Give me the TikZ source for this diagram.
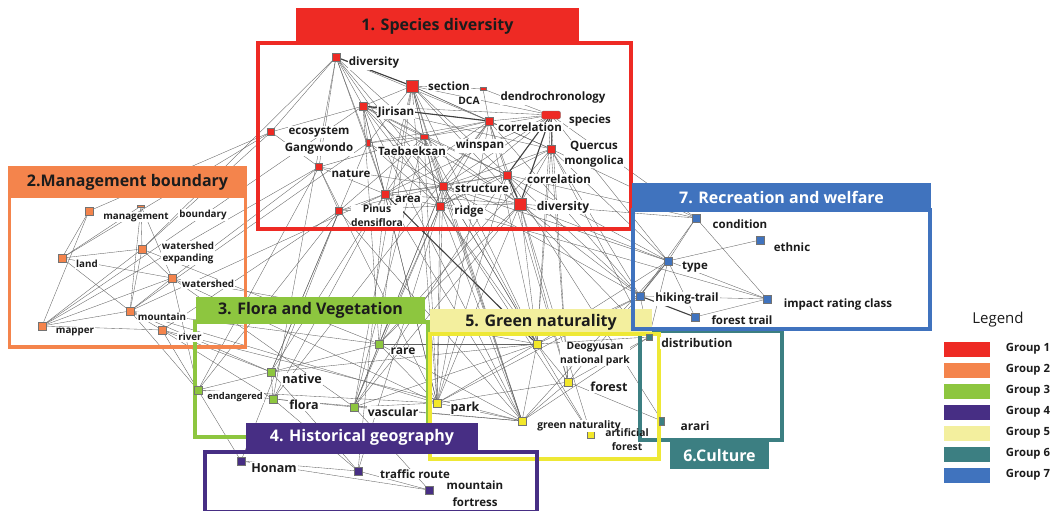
\documentclass[tikz,border=0pt]{standalone}
\usepackage{fontspec}
\setmainfont{Open Sans}
\definecolor{grpA}{HTML}{EE2A24}
\definecolor{grpB}{HTML}{F4844C}
\definecolor{grpC}{HTML}{8DC63F}
\definecolor{grpD}{HTML}{472E84}
\definecolor{grpE}{HTML}{F3EF9E}
\definecolor{grpEline}{HTML}{EEE835}
\definecolor{grpEnode}{HTML}{F2E72A}
\definecolor{grpF}{HTML}{3C7F82}
\definecolor{grpG}{HTML}{4073BE}
\definecolor{ink}{HTML}{1C1C1C}
\pgfdeclarelayer{paper}
\pgfdeclarelayer{edges}
\pgfdeclarelayer{frames}
\pgfsetlayers{paper,edges,frames,main}
\newcommand{\fs}[1]{\fontsize{#1}{#1}\selectfont\bfseries}
\begin{document}
\begin{tikzpicture}[x=1pt,y=-1pt,
  sq/.style={rectangle,draw=black!55,line width=0.3pt,minimum size=8pt,inner sep=0pt},
  big/.style={sq,minimum size=11.5pt},
  lnk/.style={draw=black!62,line width=0.35pt},
  heavy/.style={draw=black!75,line width=1.1pt},
  lbl/.style={fill=white,inner sep=1pt,text=ink,font=\fs{11.5},align=center},
  lbls/.style={lbl,font=\fs{9.8}},
  frame/.style={line width=3.1pt},
  head/.style={font=\fontsize{16}{18}\selectfont\bfseries,text=ink},
  swatch/.style={draw=white,line width=0.4pt},
  leg/.style={font=\fs{11.3},text=ink}]
\begin{pgfonlayer}{paper}
\fill[white] (0,0) rectangle (1055,511);
\end{pgfonlayer}
\useasboundingbox (0,0) rectangle (1055,511);

% ---------- Group 1 nodes
\node[sq,fill=grpA] (d1) at (336,57) {};
\node[big,fill=grpA] (sec) at (412,86) {};
\node[sq,fill=grpA,minimum width=6pt,minimum height=3pt] (dca) at (483,89) {};
\node[sq,fill=grpA,minimum width=19pt,minimum height=8pt,rounded corners=2pt] (sp) at (551,115) {};
\node[sq,fill=grpA] (jir) at (363,106) {};
\node[sq,fill=grpA] (cor1) at (489,121) {};
\node[sq,fill=grpA,minimum size=7pt] (eco) at (271,132) {};
\node[sq,fill=grpA,minimum width=4pt,minimum height=7pt] (gw) at (368,143) {};
\node[sq,fill=grpA,minimum height=5pt] (tae) at (424,137) {};
\node[sq,fill=grpA] (que) at (551,149) {};
\node[sq,fill=grpA,minimum size=7pt] (nat) at (319,167) {};
\node[sq,fill=grpA] (cor2) at (507,175) {};
\node[sq,fill=grpA] (str) at (443,186) {};
\node[sq,fill=grpA] (ar) at (385,194) {};
\node[sq,fill=grpA,minimum size=7pt] (pin) at (339,211) {};
\node[sq,fill=grpA] (rid) at (440,206) {};
\node[big,fill=grpA,minimum size=12.5pt] (d2) at (520,204) {};

% ---------- Group 2 nodes
\node[sq,fill=grpB] (m1) at (89,211) {};
\node[sq,fill=grpB,minimum width=7pt,minimum height=2pt] (mg) at (141,206) {};
\node[sq,fill=grpB] (land) at (62,258) {};
\node[sq,fill=grpB] (wexp) at (142,249) {};
\node[sq,fill=grpB] (ws) at (172,278) {};
\node[sq,fill=grpB] (mtn) at (130,311) {};
\node[sq,fill=grpB] (map) at (42,326) {};
\node[sq,fill=grpB] (riv) at (162,330) {};

% ---------- Group 3 nodes
\node[sq,fill=grpC] (end) at (198,390) {};
\node[sq,fill=grpC] (nv) at (271,372) {};
\node[sq,fill=grpC] (flo) at (273,399) {};
\node[sq,fill=grpC] (vas) at (354,407) {};
\node[sq,fill=grpC] (rar) at (379,344) {};

% ---------- Group 4 nodes
\node[sq,fill=grpD] (hon) at (241,461) {};
\node[sq,fill=grpD] (tr) at (358,471) {};
\node[sq,fill=grpD] (mf) at (429,490) {};

% ---------- Group 5 nodes
\node[sq,fill=grpEnode] (deo) at (537,344) {};
\node[sq,fill=grpEnode] (fo) at (568,382) {};
\node[sq,fill=grpEnode] (park) at (437,403) {};
\node[sq,fill=grpEnode] (gn) at (522,421) {};
\node[sq,fill=grpEnode,minimum size=7pt] (af) at (591,435) {};

% ---------- Group 6 nodes
\node[sq,fill=grpF,minimum size=6pt] (dis) at (649,337) {};
\node[sq,fill=grpF,minimum width=5pt,minimum height=8pt] (ara) at (662,421) {};

% ---------- Group 7 nodes
\node[sq,fill=grpG] (con) at (696,218) {};
\node[sq,fill=grpG] (eth) at (760,240) {};
\node[sq,fill=grpG] (typ) at (668,261) {};
\node[sq,fill=grpG] (hik) at (640,296) {};
\node[sq,fill=grpG] (imp) at (767,299) {};
\node[sq,fill=grpG] (ft) at (695,317) {};

% ---------- connectors
\begin{pgfonlayer}{edges}
\foreach \a/\b in {
  d1/sec,d1/jir,d1/tae,d1/cor1,d1/gw,d1/ar,d1/eco,d1/str,d1/nat,d1/rid,
  sec/jir,sec/cor1,sec/tae,sec/str,sec/cor2,sec/d2,sec/rid,sec/sp,sec/que,sec/ar,sec/gw,
  jir/cor1,jir/tae,jir/str,jir/ar,jir/rid,jir/d2,jir/eco,jir/cor2,jir/que,jir/sp,
  cor1/sp,cor1/tae,cor1/str,cor1/cor2,cor1/d2,cor1/que,cor1/rid,cor1/ar,
  sp/que,sp/str,sp/tae,sp/rid,sp/ar,
  tae/str,tae/ar,tae/rid,tae/d2,tae/cor2,tae/nat,tae/pin,
  que/d2,que/str,que/rid,
  cor2/str,cor2/rid,cor2/ar,
  str/rid,str/d2,str/ar,str/pin,str/nat,
  ar/pin,ar/rid,ar/nat,ar/d2,
  rid/d2,rid/pin,nat/pin,nat/eco,gw/tae,gw/jir,gw/str,gw/cor1,gw/ar,gw/rid,
  dca/sp,dca/sec,dca/cor1,
  % group 2
  m1/map,m1/land,m1/eco,mg/wexp,mg/mtn,mg/ws,wexp/land,wexp/mtn,wexp/map,ws/land,ws/map,ws/mtn,
  land/mtn,mtn/map,riv/map,wexp/ws,mtn/riv,mg/land,
  % group 3 and 4
  end/nv,end/flo,nv/flo,nv/rar,flo/vas,vas/rar,hon/tr,hon/mf,tr/mf,
  % group 5, 6, 7
  park/fo,park/deo,park/gn,fo/gn,deo/fo,fo/ara,fo/dis,deo/gn,
  typ/con,typ/hik,typ/imp,typ/ft,con/imp,con/hik,eth/typ,hik/imp,ft/imp,
  % across groups
  str/rar,str/vas,rid/vas,rid/rar,ar/flo,ar/nv,pin/end,pin/nv,nat/end,d2/vas,sec/vas,jir/rar,
  tae/vas,cor1/flo,d1/flo,que/rar,cor2/vas,gw/nv,d2/rar,sec/rar,
  sec/park,str/park,rid/park,d2/park,ar/park,jir/park,tae/park,cor1/park,cor2/park,nat/park,
  str/deo,d2/deo,rid/deo,que/deo,sp/deo,cor1/deo,sec/deo,tae/deo,
  ar/gn,str/gn,rid/gn,sec/gn,pin/gn,tae/gn,jir/gn,
  d2/fo,cor2/fo,que/fo,sp/fo,rid/af,d2/af,str/af,
  sp/typ,que/typ,cor2/typ,d2/hik,cor2/hik,que/con,d2/typ,cor1/hik,str/hik,rid/imp,sp/con,
  d2/con,cor2/con,str/typ,que/hik,
  d2/dis,que/dis,cor2/ara,
  ar/tr,pin/hon,rid/tr,
  eco/land,nat/ws,pin/riv,d1/wexp,gw/mtn,ar/mtn,jir/map,nat/map,eco/wexp,
  riv/end,mtn/rar,ws/vas,riv/nv,wexp/rar,mtn/park,riv/gn,ws/deo,ws/park,
  rar/park,vas/park,rar/deo,vas/gn,flo/gn,nv/deo,end/park,rar/gn,vas/deo,
  end/hon,flo/tr,nv/tr,vas/mf,
  deo/hik,fo/typ,park/hik,gn/typ,deo/typ,
  deo/dis,gn/dis,hik/dis,typ/dis,
  end/ws,end/mtn,nv/mtn,flo/riv}
  \draw[lnk] (\a) -- (\b);
\foreach \a/\b in {sp/cor2,sp/d2,d1/sec,jir/cor1,hik/ft,cor2/d2,ar/deo}
  \draw[heavy] (\a) -- (\b);
\end{pgfonlayer}

% ---------- group frames and titles
\begin{pgfonlayer}{frames}
\draw[frame,draw=grpB] (9.5,196) rectangle (245.5,347);
\fill[grpB] (8,166) rectangle (247,197);
\node[head] (t2) at (127.5,182) {2.Management boundary};

\draw[frame,draw=grpA] (258,43) rectangle (631,229);
\fill[grpA] (296,8) rectangle (579,43);
\node[head] (t1) at (437.5,26) {1. Species diversity};

\draw[frame,draw=grpC] (195,322) rectangle (428,437);
\fill[grpC] (196,297) rectangle (425,322);
\node[head] (t3) at (310.5,310) {3. Flora and Vegetation};

\draw[frame,draw=grpF] (640,331) rectangle (782,440);
\fill[grpF] (670,441) rectangle (769,469);
\node[head,text=white] (t6) at (719.5,456) {6.Culture};

\fill[grpE] (430,309) rectangle (652,334);
\node[head] (t5) at (541,322) {5. Green naturality};
\draw[frame,draw=grpEline] (430,334) rectangle (659,459);

\draw[frame,draw=grpD] (205,452) rectangle (537,512);
\fill[grpD] (246,423) rectangle (478,451);
\node[head,text=white] (t4) at (362,437) {4. Historical geography};

\draw[frame,draw=grpG] (633,210) rectangle (930,329);
\fill[grpG] (632,183) rectangle (931,210);
\node[head,text=white] (t7) at (781.5,197) {7. Recreation and welfare};
\end{pgfonlayer}

% ---------- labels
\node[lbl] (l-d1) at (374,63) {diversity};
\node[lbl] (l-sec) at (449,86) {section};
\node[lbl,font=\fs{10.3}] (l-dca) at (469,101) {DCA};
\node[lbl] (l-den) at (553,98) {dendrochronology};
\node[lbl] (l-sp) at (590,121) {species};
\node[lbl] (l-jir) at (396,112) {Jirisan};
\node[lbl] (l-cor1) at (530,127) {correlation};
\node[lbl] (l-eco) at (319,132) {ecosystem};
\node[lbl] (l-gw) at (319,149) {Gangwondo};
\node[lbl] (l-tae) at (412,151) {Taebaeksan};
\node[lbl] (l-win) at (480,146) {winspan};
\node[lbl,inner sep=0.5pt,font=\fontsize{11.5}{15}\selectfont\bfseries] (l-que) at (594,154) {Quercus\\mongolica};
\node[lbl] (l-nat) at (351,174) {nature};
\node[lbl] (l-cor2) at (559,179) {correlation};
\node[lbl] (l-str) at (482,189) {structure};
\node[lbl] (l-ar) at (408,199) {area};
\node[lbl,font=\fontsize{10.3}{14}\selectfont\bfseries,inner sep=0.5pt] (l-pin) at (377,216) {Pinus\\densiflora};
\node[lbl] (l-rid) at (469,212) {ridge};
\node[lbl,font=\fs{12}] (l-d2) at (563,207) {diversity};

\node[lbls] (l-mg) at (136,217) {management};
\node[lbls] (l-bd) at (203,215) {boundary};
\node[lbls] (l-land) at (87,264) {land};
\node[lbls,inner sep=0.5pt,font=\fontsize{9.8}{12.5}\selectfont\bfseries] (l-wexp) at (188,253) {watershed\\expanding};
\node[lbls] (l-ws) at (208,284) {watershed};
\node[lbls] (l-mtn) at (162,317) {mountain};
\node[lbls] (l-map) at (75,332) {mapper};
\node[lbls] (l-riv) at (190,337) {river};

\node[lbls,font=\fs{9.3}] (l-end) at (235,397) {endangered};
\node[lbl,font=\fs{12.5}] (l-nv) at (302,379) {native};
\node[lbl,font=\fs{12.5}] (l-flo) at (304,405) {flora};
\node[lbl,font=\fs{12}] (l-vas) at (393,412) {vascular};
\node[lbl,font=\fs{12}] (l-rar) at (403,351) {rare};

\node[lbl,font=\fs{12.5}] (l-hon) at (274,468) {Honam};
\node[lbl] (l-tr) at (415,474) {traffic route};
\node[lbl,inner sep=0.5pt,font=\fontsize{11.5}{17}\selectfont\bfseries] (l-mf) at (475,494) {mountain\\fortress};

\node[lbls,font=\fontsize{10.3}{14}\selectfont\bfseries,inner sep=0.5pt] (l-deo) at (595,354) {Deogyusan\\national park};
\node[lbl,font=\fs{12.5}] (l-fo) at (609,387) {forest};
\node[lbl,font=\fs{12.5}] (l-park) at (465,408) {park};
\node[lbls,font=\fs{10.3}] (l-gn) at (579,426) {green naturality};
\node[lbls,font=\fontsize{10.3}{14}\selectfont\bfseries,inner sep=0.5pt,fill=none] (l-af) at (627,440) {artificial\\forest};

\node[lbl,font=\fs{12}] (l-dis) at (697,343) {distribution};
\node[lbl,font=\fs{12}] (l-ara) at (695,426) {arari};

\node[lbl] (l-con) at (740,224) {condition};
\node[lbl] (l-eth) at (792,247) {ethnic};
\node[lbl] (l-typ) at (695,267) {type};
\node[lbl] (l-hik) at (687,299) {hiking-trail};
\node[lbl] (l-imp) at (838,305) {impact rating class};
\node[lbl] (l-ft) at (742,320) {forest trail};

% ---------- legend
\node[font=\fontsize{15}{17}\selectfont,text=ink] (legend) at (998,320) {Legend};
\foreach \c [count=\i] in {grpA,grpB,grpC,grpD,grpE,grpF,grpG} {
  \filldraw[swatch,fill=\c] (943,{320+21*\i}) rectangle (990,{336+21*\i});
  \node[leg] (g\i) at (1028,{328+21*\i}) {Group \i};
}
\end{tikzpicture}
\end{document}
